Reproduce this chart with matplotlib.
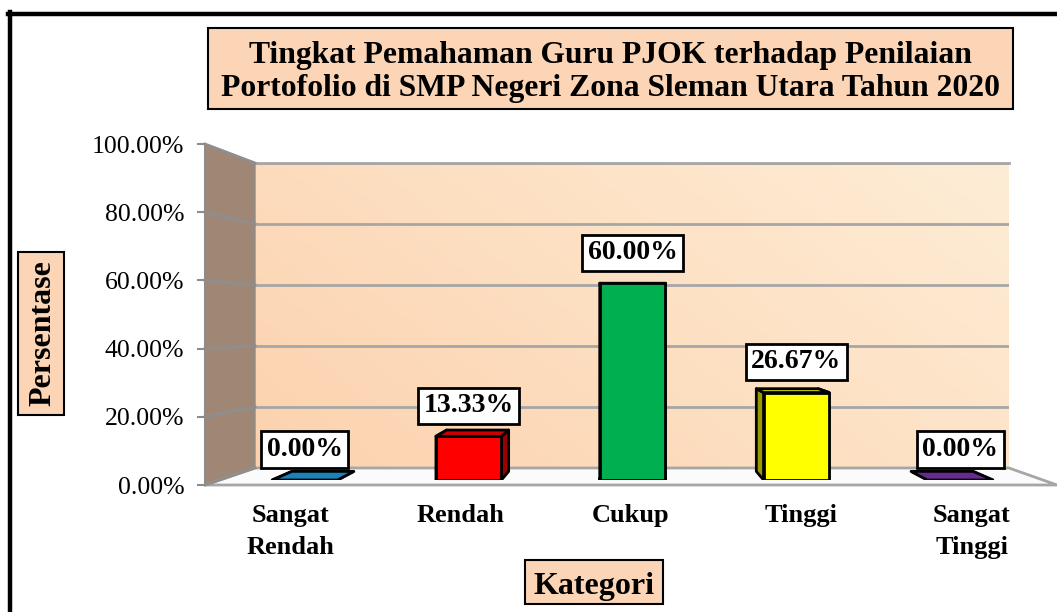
import matplotlib
matplotlib.use('Agg')
import matplotlib.pyplot as plt
import numpy as np
from matplotlib.patches import Polygon, Rectangle
from matplotlib.lines import Line2D
from matplotlib.colors import to_rgb, LinearSegmentedColormap

# ---------------- data ----------------
categories = ['Sangat\nRendah', 'Rendah', 'Cukup', 'Tinggi', 'Sangat\nTinggi']
values = [0.00, 13.33, 60.00, 26.67, 0.00]
bar_colors = ['#1E9FE0', '#FF0000', '#00B050', '#FFFF00', '#7D35B0']
yticks = [0, 20, 40, 60, 80, 100]
title_lines = ['Tingkat Pemahaman Guru PJOK terhadap Penilaian',
               'Portofolio di SMP Negeri Zona Sleman Utara Tahun 2020']
y_title = 'Persentase'
x_title = 'Kategori'

plt.rcParams['font.family'] = ['Liberation Serif', 'DejaVu Serif']

W, H = 1057, 612
fig = plt.figure(figsize=(W / 100, H / 100), dpi=100)
fig.patch.set_facecolor('white')


def fx(px):
    return px / W


def fy(py):
    return 1 - py / H


def box(l, t, r, b):
    return [fx(l), fy(b), fx(r) - fx(l), fy(t) - fy(b)]


PEACH = '#FBD5B5'
GRID = '#A6A6A6'

# ---------------- back wall ----------------
back = fig.add_axes(box(255, 163, 1009, 468), zorder=0)
gx, gy = np.meshgrid(np.linspace(0, 1, 200), np.linspace(0, 1, 100))
T = 0.65 * gx + 0.35 * gy
wall_cmap = LinearSegmentedColormap.from_list('wall', ['#FCD2AE', '#FEEDD6'])
back.imshow(T, extent=[-0.5, 4.5, 0, 100], origin='lower', aspect='auto',
            cmap=wall_cmap, zorder=0)
back.set_xlim(-0.5, 4.5)
back.set_ylim(0, 100)
back.set_yticks(yticks)
back.set_xticks([])
back.yaxis.grid(True, color=GRID, lw=2)
back.tick_params(length=0, labelleft=False)
for s in back.spines.values():
    s.set_visible(False)
back.spines['top'].set_visible(True)
back.spines['top'].set_color(GRID)
back.spines['top'].set_linewidth(2)

# ---------------- front (axis) ----------------
front = fig.add_axes(box(205, 144, 1057, 485), zorder=1)
front.patch.set_visible(False)
front.set_xlim(-0.5, 4.5)
front.set_ylim(0, 100)
front.set_yticks(yticks)
front.set_yticklabels([f'{v:.2f}%' for v in yticks], fontsize=18.5)
front.set_xticks(range(len(categories)))
front.set_xticklabels(categories, fontsize=19, fontweight='bold', linespacing=1.45)
front.tick_params(axis='y', color='#8C8C8C', length=6, width=1.5, pad=9)
front.tick_params(axis='x', length=0, pad=14)
for k, s in front.spines.items():
    s.set_visible(k == 'left')
front.spines['left'].set_color('#8C8C8C')
front.spines['left'].set_linewidth(1.5)


def to_fig(ax, xa, yd):
    d = ax.get_yaxis_transform().transform((xa, yd))
    return fig.transFigure.inverted().transform(d)


# side wall
side = Polygon([to_fig(front, 0, 100), to_fig(back, 0, 100),
                to_fig(back, 0, 0), to_fig(front, 0, 0)],
               closed=True, transform=fig.transFigure, fc='#A08775',
               ec='#8C8C8C', lw=1, zorder=0.5)
fig.add_artist(side)
for v in yticks:
    p0 = to_fig(front, 0, v)
    p1 = to_fig(back, 0, v)
    fig.add_artist(Line2D([p0[0], p1[0]], [p0[1], p1[1]], transform=fig.transFigure,
                          color='#8E8E8E', lw=2, zorder=0.6))

# floor
floor = Polygon([to_fig(front, 0, 0), to_fig(back, 0, 0),
                 to_fig(back, 1, 0), to_fig(front, 1, 0)],
                closed=True, transform=fig.transFigure, fc='#FBFBFB',
                ec=GRID, lw=2, zorder=0.55)
fig.add_artist(floor)

# ---------------- bars ----------------
bar_ax = fig.add_axes(box(223, 152, 1042, 480), zorder=2)
bar_ax.patch.set_visible(False)
bar_ax.set_xlim(-0.5, 4.5)
bar_ax.set_ylim(0, 100)
bar_ax.set_xticks([])
bar_ax.set_yticks([])
for s in bar_ax.spines.values():
    s.set_visible(False)

xs = np.arange(len(values))
bw = 0.4
bar_ax.bar(xs, values, width=bw, color=bar_colors, edgecolor='black', lw=2, zorder=3)

# simple perspective depth for the bar blocks
VX, VY = 632, H - 323   # vanishing point, display pixels
K = 0.055
inv = bar_ax.transData.inverted()


def shade(c, f):
    r, g, b = to_rgb(c)
    return (r * f, g * f, b * f)


for x, v, c in zip(xs, values, bar_colors):
    corners = {
        'bl': (x - bw / 2, 0), 'br': (x + bw / 2, 0),
        'tl': (x - bw / 2, v), 'tr': (x + bw / 2, v),
    }
    disp = {k: bar_ax.transData.transform(p) for k, p in corners.items()}
    backp = {k: p + K * (np.array([VX, VY]) - p) for k, p in disp.items()}
    d = {k: inv.transform(p) for k, p in disp.items()}
    bk = {k: inv.transform(p) for k, p in backp.items()}
    faces = [
        ([d['bl'], bk['bl'], bk['tl'], d['tl']], shade(c, 0.6)),
        ([d['br'], bk['br'], bk['tr'], d['tr']], shade(c, 0.6)),
        ([d['tl'], bk['tl'], bk['tr'], d['tr']], shade(c, 0.82)),
    ]
    for pts, col in faces:
        bar_ax.add_patch(Polygon(pts, closed=True, fc=col, ec='black', lw=2,
                                 zorder=2.5, joinstyle='round'))
    bar_ax.annotate(f'{v:.2f}%', xy=(x, v), xytext=(0, 13), textcoords='offset points',
                    ha='center', va='bottom', fontsize=20, fontweight='bold',
                    bbox=dict(boxstyle='square,pad=0.2', fc='white', ec='black', lw=2),
                    zorder=5, annotation_clip=False)

# ---------------- title & axis titles ----------------
fig.add_artist(Rectangle((fx(208), fy(109)), fx(1013) - fx(208), fy(28) - fy(109),
                         transform=fig.transFigure, fc=PEACH, ec='black', lw=1.5, zorder=3))
fig.text(fx(610.5), fy(63), title_lines[0], ha='center', va='baseline',
         fontsize=22.8, fontweight='bold', zorder=4)
fig.text(fx(610.5), fy(96), title_lines[1], ha='center', va='baseline',
         fontsize=22.8, fontweight='bold', zorder=4)

fig.add_artist(Rectangle((fx(18), fy(415)), fx(64) - fx(18), fy(252) - fy(415),
                         transform=fig.transFigure, fc=PEACH, ec='black', lw=1.5, zorder=3))
fig.text(fx(43), fy(333.5), y_title, ha='center', va='center', rotation=90,
         fontsize=23, fontweight='bold', zorder=4)

fig.add_artist(Rectangle((fx(525), fy(604)), fx(663) - fx(525), fy(560) - fy(604),
                         transform=fig.transFigure, fc=PEACH, ec='black', lw=1.5, zorder=3))
fig.text(fx(594), fy(594), x_title, ha='center', va='baseline',
         fontsize=23, fontweight='bold', zorder=4)

# outer frame (left & top)
fig.add_artist(Line2D([fx(9.5), fx(9.5)], [fy(12), 0], transform=fig.transFigure,
                      color='black', lw=3.2, zorder=6))
fig.add_artist(Line2D([fx(7.5), 1], [fy(13.5), fy(13.5)], transform=fig.transFigure,
                      color='black', lw=3.2, zorder=6))

fig.savefig('out.png', dpi=100, facecolor='white')
